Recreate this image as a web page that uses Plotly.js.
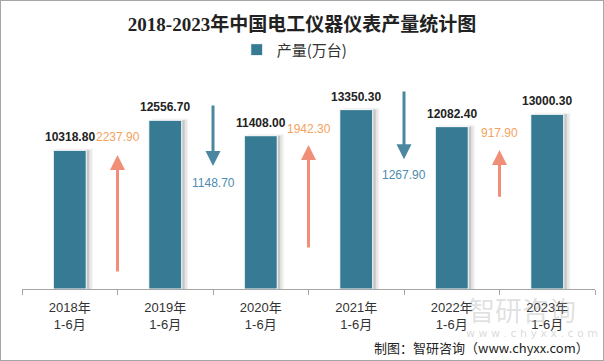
<!DOCTYPE html>
<html>
<head>
<meta charset="utf-8">
<script src="https://cdn.plot.ly/plotly-3.0.1.min.js"></script>
<style>
  html, body { margin: 0; padding: 0; background: #fff; }
  #chart { width: 604px; height: 361px; box-sizing: border-box; border: 1px solid #a6a6a6; }
</style>
</head>
<body>
<div id="chart"></div>
<script>
// ---- data ----
const years = ['2018年', '2019年', '2020年', '2021年', '2022年', '2023年'];
const period = '1-6月';
const seriesName = '产量(万台)';
const output = [10318.8, 12556.7, 11408.0, 13350.3, 12082.4, 13000.3];

// ---- decoration levels (y-axis units) for change arrows ----
const arrowTail = [1190, 13770, 2970, 14810, 6760];
const arrowTip = [9980, 9160, 10720, 9660, 10350];
const changeLabelLevel = [11340, 7920, 11910, 8490, 11590];

const categories = years.map(y => y + '<br>' + period);
const barColor = '#367b93';
const upArrow = '#f08e78', upText = '#f4a25e';
const downArrow = '#4b87a1', downText = '#4d8bb0';

const barW = 0.345;
const pxPerCat = 573 / 6;

const shadow2 = {
  type: 'bar', x: categories, y: output, width: barW,
  offset: -barW / 2 + 5 / pxPerCat,
  marker: { color: 'rgba(215,215,215,0.55)', line: { color: 'rgba(225,225,225,0.5)', width: 3 } },
  showlegend: false, hoverinfo: 'skip'
};
const shadow1 = {
  type: 'bar', x: categories, y: output, width: barW,
  offset: -barW / 2 + 3 / pxPerCat,
  marker: { color: 'rgba(175,175,175,0.6)', line: { width: 0 } },
  showlegend: false, hoverinfo: 'skip'
};
const main = {
  type: 'bar', name: seriesName, x: categories, y: output, width: barW,
  offset: -barW / 2,
  marker: { color: barColor, line: { color: '#ffffff', width: 1 } }
};

const annotations = [];
// value labels
output.forEach((v, i) => {
  annotations.push({
    x: i, y: v, xref: 'x', yref: 'y', text: v.toFixed(2), showarrow: false,
    yanchor: 'bottom', yshift: 4,
    font: { family: 'Liberation Sans, Arial, sans-serif', size: 12, color: '#222', weight: 'bold' }
  });
});
// change arrows + labels
for (let i = 0; i < output.length - 1; i++) {
  const d = output[i + 1] - output[i];
  const up = d >= 0;
  annotations.push({
    x: i + 0.5, y: arrowTip[i], ax: i + 0.5, ay: arrowTail[i],
    xref: 'x', yref: 'y', axref: 'x', ayref: 'y', text: '',
    showarrow: true, arrowhead: 2, arrowsize: 1, arrowwidth: 3, standoff: 0,
    arrowcolor: up ? upArrow : downArrow
  });
  annotations.push({
    x: i + 0.5, y: changeLabelLevel[i], xref: 'x', yref: 'y',
    text: Math.abs(d).toFixed(2), showarrow: false, yanchor: 'middle',
    font: { family: 'Liberation Sans, Arial, sans-serif', size: 12, color: up ? upText : downText }
  });
}
// watermark
annotations.push({
  xref: 'paper', yref: 'paper', x: 0.775, y: -0.095, xanchor: 'left', yanchor: 'middle',
  text: '智研咨询', showarrow: false,
  font: { family: 'Noto Sans CJK SC, sans-serif', size: 27, color: 'rgba(160,160,160,0.33)' }
});
annotations.push({
  xref: 'paper', yref: 'paper', x: 0.772, y: -0.205, xanchor: 'left', yanchor: 'middle',
  text: 'w w w . c h y x x . c o m', showarrow: false,
  font: { family: 'DejaVu Sans, sans-serif', size: 11, color: 'rgba(160,160,160,0.4)' }
});
// source footer
annotations.push({
  xref: 'paper', yref: 'paper', x: 0.993, y: -0.27, xanchor: 'right', yanchor: 'middle',
  text: '制图：智研咨询（www.chyxx.com）', showarrow: false,
  font: { family: 'Noto Sans CJK SC, sans-serif', size: 13, color: '#222' }
});

const layout = {
  width: 602, height: 359,
  margin: { l: 21, r: 8, t: 73, b: 71, pad: 0 },
  paper_bgcolor: '#ffffff', plot_bgcolor: '#ffffff',
  barmode: 'overlay',
  title: {
    text: '2018-2023年中国电工仪器仪表产量统计图',
    x: 0.5, xref: 'container', xanchor: 'center',
    y: 0.936, yref: 'container', yanchor: 'middle',
    font: { family: 'Liberation Serif, Noto Sans CJK SC, serif', size: 19, color: '#222', weight: 'bold' }
  },
  showlegend: true,
  legend: {
    orientation: 'h', x: 0.476, xanchor: 'center', y: 1.112, yanchor: 'middle',
    font: { family: 'Noto Sans CJK SC, sans-serif', size: 15, color: '#333' },
    bgcolor: 'rgba(0,0,0,0)'
  },
  xaxis: {
    type: 'category', range: [-0.5, 5.5],
    showline: true, linecolor: '#a6a6a6', linewidth: 1,
    ticks: 'outside', tickson: 'boundaries', ticklen: 5, tickcolor: '#a6a6a6',
    showgrid: false, zeroline: false,
    tickfont: { family: 'Liberation Sans, Noto Sans CJK SC, sans-serif', size: 13, color: '#333' },
    ticklabelstandoff: 6
  },
  yaxis: {
    range: [0, 16000], visible: false, showgrid: false, zeroline: false
  },
  annotations: annotations
};

Plotly.newPlot('chart', [shadow2, shadow1, main], layout, { displayModeBar: false, staticPlot: true });
</script>
</body>
</html>
